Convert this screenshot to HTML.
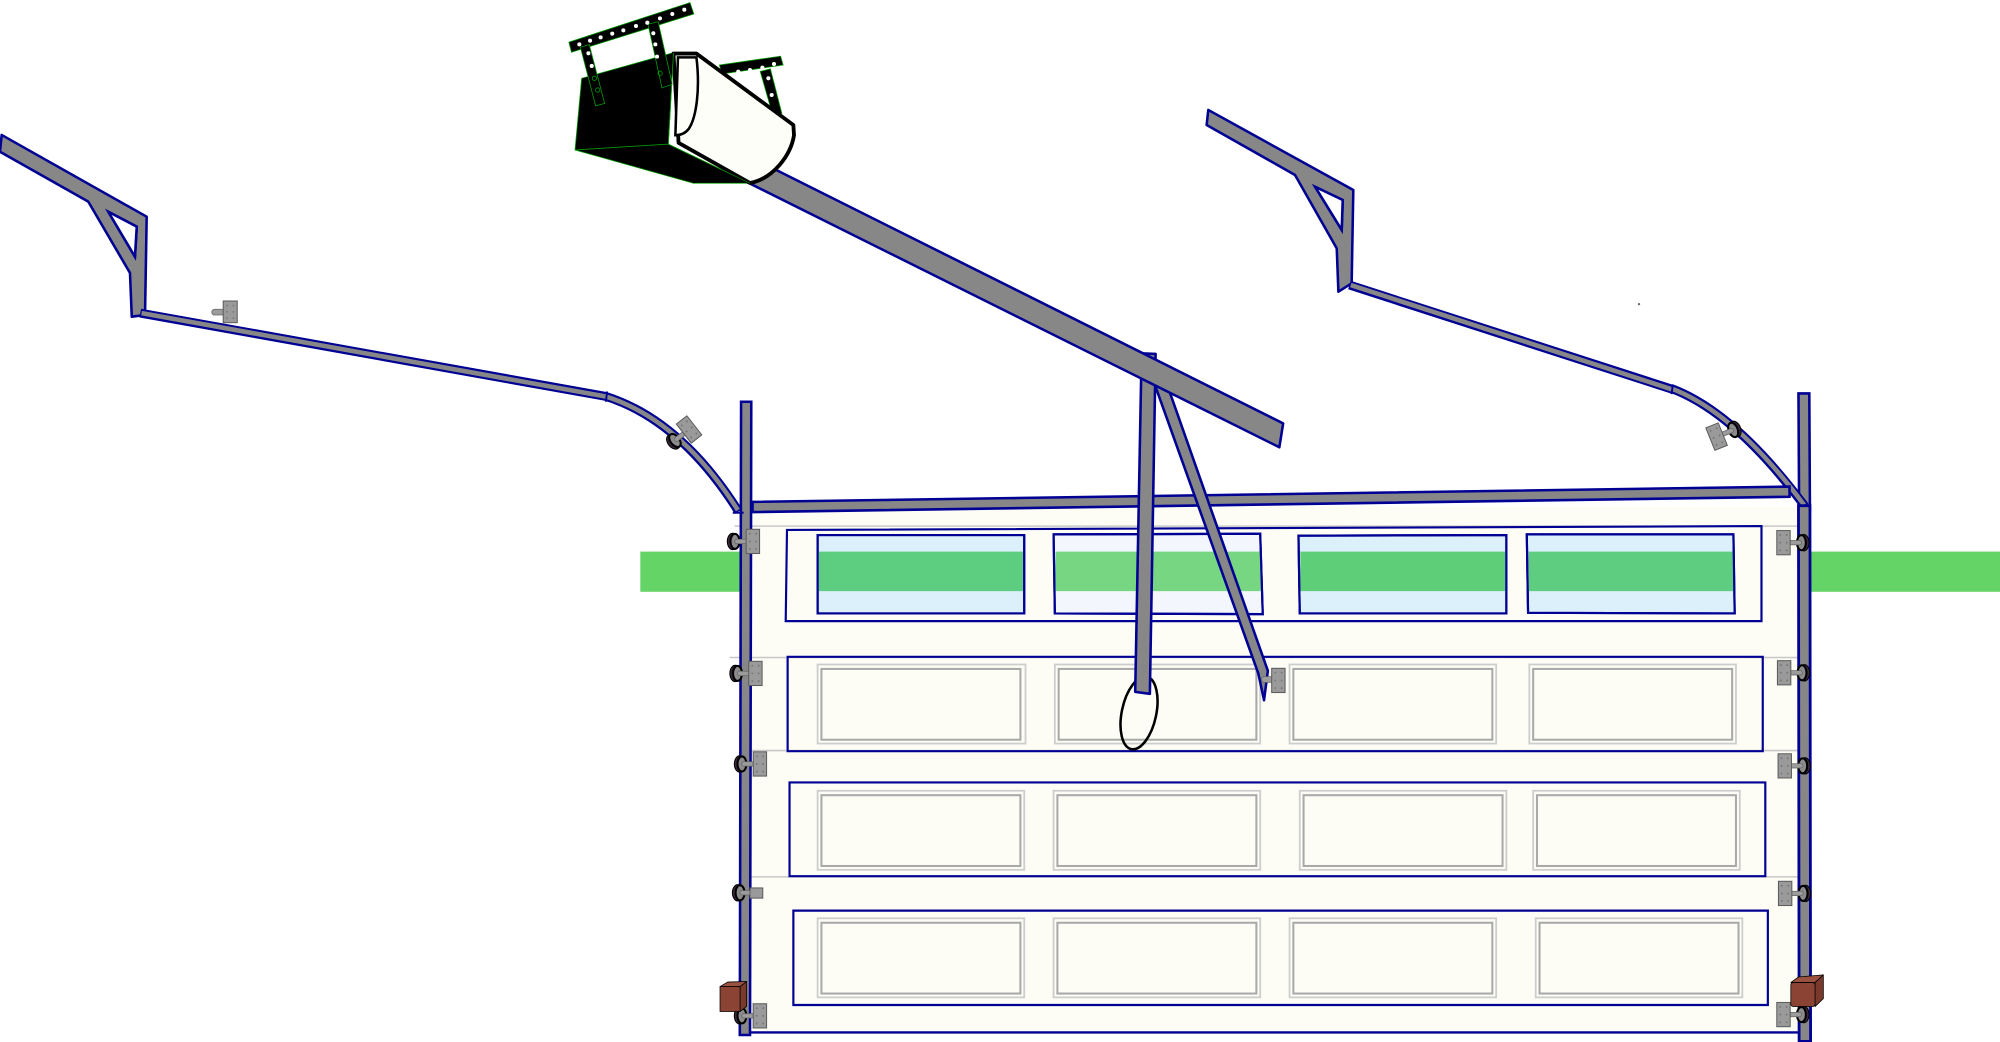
<!DOCTYPE html>
<html><head><meta charset="utf-8"><style>
html,body{margin:0;padding:0;background:#fff;overflow:hidden}
svg{display:block}
</style></head><body>
<svg xmlns="http://www.w3.org/2000/svg" width="2000" height="1042" viewBox="0 0 1568 817" preserveAspectRatio="none">
<defs>
<g id="rl">
  <ellipse cx="-1.6" cy="0" rx="4.2" ry="6.4" fill="#3b283b" stroke="#000" stroke-width="0.8"/>
  <ellipse cx="0.2" cy="0" rx="3.5" ry="5.9" fill="#8c8c8c" stroke="#000" stroke-width="1.6"/>
  <rect x="0" y="-1.7" width="11" height="3.4" rx="1.7" fill="#9c9c9c" stroke="#666" stroke-width="0.6"/>
  <rect x="9" y="-9.5" width="10.5" height="19" fill="#9a9a9a" stroke="#5c5c5c" stroke-width="0.8"/>
  <g fill="#777"><circle cx="11.8" cy="-6" r="0.75"/><circle cx="16.8" cy="-6" r="0.75"/><circle cx="11.8" cy="0" r="0.75"/><circle cx="16.8" cy="0" r="0.75"/><circle cx="11.8" cy="6" r="0.75"/><circle cx="16.8" cy="6" r="0.75"/></g>
</g>
</defs>

<!-- green bands -->
<rect x="502" y="432.5" width="78" height="31.5" fill="#63d465"/>
<rect x="1419" y="432.5" width="149" height="31.5" fill="#63d465"/>

<!-- door body -->
<rect x="588" y="397" width="823" height="413" fill="#fdfdf6"/>
<g stroke="#c8c8c8" stroke-width="1.2">
  <line x1="576" y1="412.5" x2="1410" y2="412.5"/>
  <line x1="572" y1="515.5" x2="1410" y2="515.5"/>
  <line x1="580" y1="588.5" x2="1410" y2="588.5"/>
  <line x1="585" y1="687.5" x2="1410" y2="687.5"/>
</g>

<!-- row frames -->
<g fill="none" stroke="#000094" stroke-width="1.7">
  <path d="M617,415.5 L1381,412.5 L1381,487 L616,487 Z"/>
  <path d="M617.5,515 L1382,515 L1382,589 L617.5,589 Z"/>
  <path d="M619,613.5 L1384,613.5 L1384,687 L619,687 Z"/>
  <path d="M622,714 L1386,714 L1386,788 L622,788 Z"/>
</g>

<!-- windows -->
<g stroke="#000094" stroke-width="1.7">
  <path d="M641,419.5 L803,419.5 L803,481 L641,481 Z" fill="#dcf0fb"/>
  <path d="M826,419 L988,418.5 L990,481.5 L827,481 Z" fill="#f3f7fd"/>
  <path d="M1018,420 L1181,419.5 L1181,481 L1019,481 Z" fill="#dcf0fb"/>
  <path d="M1197,419 L1359,419 L1360,481 L1198,480.5 Z" fill="#dcf0fb"/>
</g>
<rect x="642" y="432.5" width="160" height="31" fill="#5dcd80"/>
<rect x="827.5" y="432.5" width="161" height="31" fill="#77d681"/>
<rect x="1019.5" y="432.5" width="160.5" height="31" fill="#5fce78"/>
<rect x="1198.5" y="432.5" width="160.5" height="31" fill="#5ecd80"/>
<g fill="none" stroke="#000094" stroke-width="1.7">
  <path d="M641,419.5 L803,419.5 L803,481 L641,481 Z"/>
  <path d="M826,419 L988,418.5 L990,481.5 L827,481 Z"/>
  <path d="M1018,420 L1181,419.5 L1181,481 L1019,481 Z"/>
  <path d="M1197,419 L1359,419 L1360,481 L1198,480.5 Z"/>
</g>

<!-- raised panels -->
<g fill="none">
  <g stroke="#cdcdcd" stroke-width="1.4">
    <rect x="641" y="521" width="163" height="62"/>
    <rect x="827" y="521" width="161" height="62"/>
    <rect x="1011" y="521" width="162" height="62"/>
    <rect x="1199" y="521" width="162" height="62"/>
    <rect x="641" y="620" width="162" height="62"/>
    <rect x="826" y="620" width="162" height="62"/>
    <rect x="1019" y="620" width="162" height="62"/>
    <rect x="1202" y="620" width="162" height="62"/>
    <rect x="641" y="720" width="162" height="62"/>
    <rect x="826" y="720" width="162" height="62"/>
    <rect x="1011" y="720" width="162" height="62"/>
    <rect x="1204" y="720" width="162" height="62"/>
  </g>
  <g stroke="#a9a9a9" stroke-width="1.6">
    <rect x="644" y="524.5" width="156" height="55.5"/>
    <rect x="830" y="524.5" width="155" height="55.5"/>
    <rect x="1014" y="524.5" width="156" height="55.5"/>
    <rect x="1202" y="524.5" width="156" height="55.5"/>
    <rect x="644" y="623.5" width="156" height="55.5"/>
    <rect x="829" y="623.5" width="156" height="55.5"/>
    <rect x="1022" y="623.5" width="156" height="55.5"/>
    <rect x="1205" y="623.5" width="156" height="55.5"/>
    <rect x="644" y="723.5" width="156" height="55.5"/>
    <rect x="829" y="723.5" width="156" height="55.5"/>
    <rect x="1014" y="723.5" width="156" height="55.5"/>
    <rect x="1207" y="723.5" width="156" height="55.5"/>
  </g>
</g>
<line x1="588" y1="809.5" x2="1411" y2="809.5" stroke="#000094" stroke-width="1.8"/>

<!-- brackets -->
<g fill="#878787" stroke="#000094" stroke-width="2" stroke-linejoin="round" fill-rule="evenodd">
  <path d="M1.3,105.8 L115,169.9 L113.7,247 L103.3,248.3 L101.9,214 L69.2,158.1 L0,119 Z M84.9,166 L107.2,177.7 L105.8,201.3 Z"/>
  <path d="M947.3,86.2 L1061,149 L1059.7,222.1 L1049.3,228.7 L1048,194.7 L1015.3,137.2 L946,98 Z M1031,146.4 L1052.7,156.8 L1051.9,180.3 Z"/>
</g>
<path d="M84.9,166 L107.2,177.7 L105.8,201.3 Z" fill="#fff" stroke="#000094" stroke-width="2"/>
<path d="M1031,146.4 L1052.7,156.8 L1051.9,180.3 Z" fill="#fff" stroke="#000094" stroke-width="2"/>

<!-- upper right vertical track (behind curve) -->
<path d="M1410,308.5 L1418.5,308.5 L1419,400 L1410.5,400 Z" fill="#878787" stroke="#000094" stroke-width="2"/>
<!-- left vertical track -->
<path d="M581,315 L589,315 L588,811.5 L580,811.5 Z" fill="#878787" stroke="#000094" stroke-width="2"/>

<!-- straight rails & curves -->
<g fill="none" stroke-linecap="butt">
  <g stroke="#000094" stroke-width="7">
    <line x1="110" y1="245.5" x2="476" y2="311"/>
    <line x1="1058" y1="223.5" x2="1312" y2="305.5"/>
    <path d="M474,310.5 Q533.5,329 579,401"/>
    <path d="M1310,304.5 Q1360,323 1415,397"/>
  </g>
  <g stroke="#878787" stroke-width="3.6">
    <line x1="111" y1="245.5" x2="475.5" y2="311"/>
    <line x1="1059" y1="223.5" x2="1311.5" y2="305.5"/>
    <path d="M474,310.5 Q533.5,329 578.5,400"/>
    <path d="M1310,304.5 Q1360,323 1414.5,396"/>
  </g>
  <line x1="476" y1="307" x2="475" y2="315" stroke="#000094" stroke-width="1.5"/>
  <line x1="1311.5" y1="301.5" x2="1310.5" y2="309" stroke="#000094" stroke-width="1.5"/>
</g>
<line x1="574.5" y1="402" x2="583" y2="402" stroke="#000094" stroke-width="1.6"/>

<!-- lower right vertical track (over curve end) -->
<path d="M1410,396.5 L1419,396.5 L1419.5,816.5 L1410.5,816.5 Z" fill="#878787" stroke="#000094" stroke-width="2.2"/>

<!-- top rail -->
<path d="M590,393.5 L1403,381.5 L1403,389.5 L590,401.5 Z" fill="#878787" stroke="#000094" stroke-width="2"/>

<!-- small hinge on left rail -->
<g>
  <rect x="166" y="242.5" width="10" height="4.5" rx="2.2" fill="#9c9c9c" stroke="#666" stroke-width="0.6"/>
  <rect x="175" y="236" width="11" height="17" fill="#9a9a9a" stroke="#5c5c5c" stroke-width="0.8"/>
  <g fill="#777"><circle cx="178" cy="239.5" r="0.7"/><circle cx="183" cy="239.5" r="0.7"/><circle cx="178" cy="244.5" r="0.7"/><circle cx="183" cy="244.5" r="0.7"/><circle cx="178" cy="249.5" r="0.7"/><circle cx="183" cy="249.5" r="0.7"/></g>
</g>

<!-- rollers left -->
<use href="#rl" transform="translate(529,345.5) rotate(-38)"/>
<use href="#rl" transform="translate(576,424.5)"/>
<use href="#rl" transform="translate(578,528)"/>
<use href="#rl" transform="translate(581.5,599)"/>
<g transform="translate(580,700)">
  <ellipse cx="-1.6" cy="0" rx="4.2" ry="6.4" fill="#3b283b" stroke="#000" stroke-width="0.8"/>
  <ellipse cx="0.2" cy="0" rx="3.5" ry="5.9" fill="#8c8c8c" stroke="#000" stroke-width="1.6"/>
  <rect x="0" y="-1.7" width="10" height="3.4" rx="1.7" fill="#9c9c9c" stroke="#666" stroke-width="0.6"/>
  <rect x="8" y="-3.8" width="10" height="8" fill="#9a9a9a" stroke="#5c5c5c" stroke-width="0.8"/>
</g>
<use href="#rl" transform="translate(581.5,796.5)"/>

<!-- rollers right -->
<use href="#rl" transform="translate(1359,337) rotate(-22) scale(-1,1)"/>
<use href="#rl" transform="translate(1412.5,425.5) scale(-1,1)"/>
<use href="#rl" transform="translate(1413,527.5) scale(-1,1)"/>
<use href="#rl" transform="translate(1413.5,600.5) scale(-1,1)"/>
<use href="#rl" transform="translate(1413.8,700.5) scale(-1,1)"/>
<use href="#rl" transform="translate(1412.5,795.5) scale(-1,1)"/>

<!-- bump stops -->
<g stroke="#000" stroke-width="0.6" stroke-linejoin="round">
  <path d="M564.5,773.5 L570.5,770 L585.4,769.6 L580.2,773.5 Z" fill="#9b5140"/>
  <path d="M580.2,773.5 L585.4,769.6 L585.4,789 L580.2,793.1 Z" fill="#7a3a2b"/>
  <rect x="564.5" y="773.5" width="15.7" height="19.6" fill="#8b4434"/>
  <path d="M1404,770.4 L1410,766 L1429.5,764.4 L1423,770.4 Z" fill="#9b5140"/>
  <path d="M1423,770.4 L1429.5,764.4 L1429.5,783 L1423,789.2 Z" fill="#7a3a2b"/>
  <rect x="1404" y="770.4" width="19" height="18.8" rx="2" fill="#8b4434"/>
</g>

<!-- pull handle loop -->
<ellipse cx="893" cy="559" rx="13.5" ry="29" transform="rotate(12 893 559)" fill="none" stroke="#000" stroke-width="2"/>

<!-- rods -->
<path d="M895,277 L906,277.5 L901.5,544 L890,542.5 Z" fill="#878787" stroke="#000094" stroke-width="2" stroke-linejoin="round"/>
<path d="M903,295 L912,293 L994,526 L991,549 L986.5,528 Z" fill="#878787" stroke="#000094" stroke-width="2" stroke-linejoin="round"/>
<g>
  <rect x="989" y="530.5" width="10" height="4.5" rx="2.2" fill="#9c9c9c" stroke="#666" stroke-width="0.6"/>
  <rect x="997" y="524" width="10.5" height="19" fill="#9a9a9a" stroke="#5c5c5c" stroke-width="0.8"/>
  <g fill="#777"><circle cx="999.8" cy="527.5" r="0.7"/><circle cx="1004.8" cy="527.5" r="0.7"/><circle cx="999.8" cy="533.5" r="0.7"/><circle cx="1004.8" cy="533.5" r="0.7"/><circle cx="999.8" cy="539.5" r="0.7"/><circle cx="1004.8" cy="539.5" r="0.7"/></g>
</g>

<!-- opener beam -->
<path d="M598,128 L1006,332 L1003,350.7 L578,139 Z" fill="#878787" stroke="#000094" stroke-width="2" stroke-linejoin="round"/>

<!-- opener -->
<g stroke="#00a000" stroke-width="0.6">
  <path d="M564,51 L612,44 L614,51 L566,58 Z" fill="#000"/>
  <path d="M596,56 L604,54 L613,89 L606,91 Z" fill="#000"/>
  <path d="M456,61.4 L528,41.3 L524,113 L450.8,117.6 Z" fill="#000"/>
  <path d="M450.8,117.6 L524,113 L588,143.7 L543.6,143.7 Z" fill="#000"/>
</g>
<g fill="#fff">
  <circle cx="578.8" cy="56.2" r="1.6"/><circle cx="588" cy="54.9" r="1.6"/><circle cx="597.7" cy="53.1" r="1.6"/><circle cx="606.8" cy="50.2" r="1.6"/>
  <circle cx="602.4" cy="61.4" r="1.6"/><circle cx="605" cy="74.5" r="1.6"/>
</g>
<path d="M528,42 L546,42 L622,98 L622.5,106 C620,122 606,140 588,143.5 L532,112 Z" fill="#fefef8" stroke="#000" stroke-width="3" stroke-linejoin="round"/>
<path d="M531.5,45 L546,45 C549,70 546,92 540,101 C537,105 533,106 529.5,106 Z" fill="#fefef8" stroke="#000" stroke-width="2"/>
<line x1="528" y1="41.5" x2="524" y2="113" stroke="#00a000" stroke-width="0.6"/>
<line x1="524" y1="113" x2="588" y2="143.7" stroke="#00a000" stroke-width="0.5"/>
<g stroke="#00a000" stroke-width="0.6" fill="#000">
  <path d="M446,33 L541,2 L544,11 L448,41 Z"/>
  <path d="M455,37 L462,35 L474,81 L467,83 Z"/>
  <path d="M508,19 L516,17 L527,66 L519,69 Z"/>
</g>
<g fill="#fff">
  <circle cx="454.2" cy="34.8" r="1.6"/><circle cx="462.6" cy="31.9" r="1.6"/><circle cx="470.9" cy="29.3" r="1.6"/><circle cx="480" cy="26.4" r="1.6"/><circle cx="488.7" cy="23.8" r="1.6"/><circle cx="498.6" cy="20.4" r="1.6"/><circle cx="507.5" cy="17.8" r="1.6"/><circle cx="517.4" cy="14.4" r="1.6"/><circle cx="527.1" cy="11" r="1.6"/><circle cx="536.5" cy="7.6" r="1.6"/>
  <circle cx="461.3" cy="41.8" r="1.6"/><circle cx="463.9" cy="51.7" r="1.6"/>
  <circle cx="512.2" cy="26.1" r="1.6"/><circle cx="513.8" cy="34.8" r="1.6"/><circle cx="515.1" cy="44.4" r="1.6"/>
</g>
<g fill="none" stroke="#00a000" stroke-width="0.6">
  <circle cx="466" cy="61.4" r="1.7"/><circle cx="468.6" cy="70.6" r="1.7"/><circle cx="517.5" cy="57.5" r="1.7"/>
</g>

<circle cx="1285" cy="238.5" r="0.9" fill="#666"/>
</svg>
</body></html>
